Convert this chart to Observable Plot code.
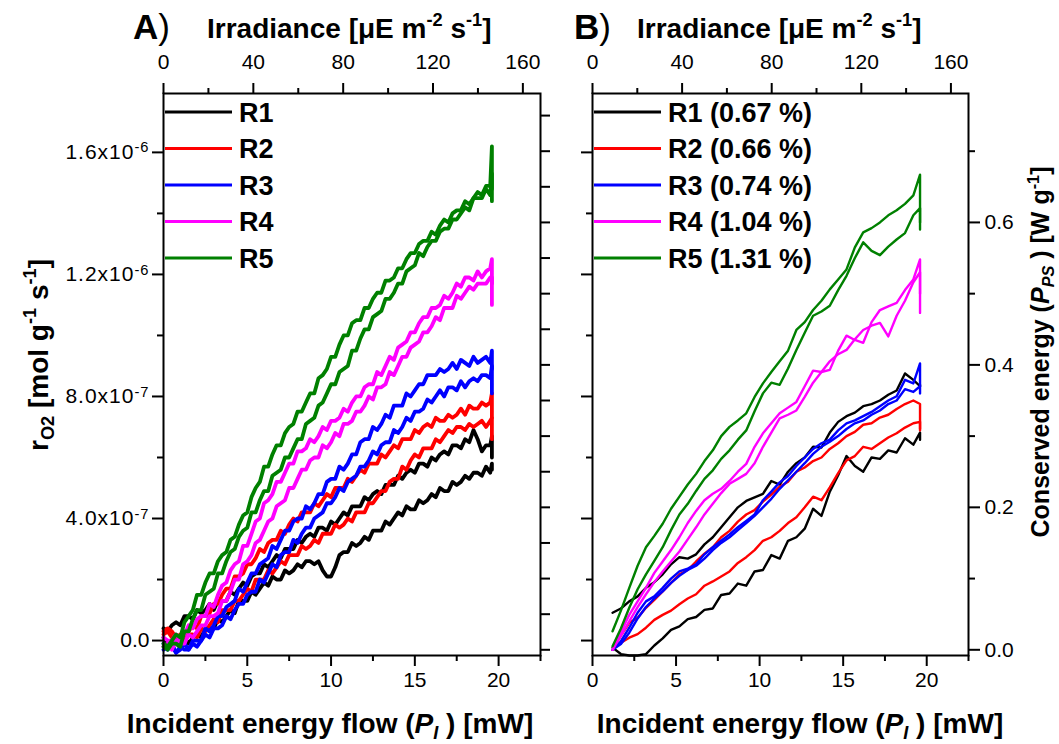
<!DOCTYPE html>
<html><head><meta charset="utf-8">
<script src="https://cdn.jsdelivr.net/npm/d3@7"></script>
<script src="https://cdn.jsdelivr.net/npm/@observablehq/plot@0.6"></script>
<style>
html,body{margin:0;padding:0;background:#fff;}
#wrap{position:relative;width:1059px;height:744px;overflow:hidden;background:#fff;}
#wrap svg{position:absolute;top:0;}
</style></head><body><div id="wrap"></div>
<script>
// ---------------- data ----------------
// Panel A: x = incident energy flow (mW); y = r_O2 in units of 1e-7 mol g-1 s-1
const xA = [0,0.25,0.5,0.75,1,1.25,1.5,1.75,2,2.25,2.5,2.75,3,3.25,3.5,3.75,4,4.25,4.5,4.75,5,5.25,5.5,5.75,6,6.25,6.5,6.75,7,7.25,7.5,7.75,8,8.25,8.5,8.75,9,9.25,9.5,9.75,10,10.25,10.5,10.75,11,11.25,11.5,11.75,12,12.25,12.5,12.75,13,13.25,13.5,13.75,14,14.25,14.5,14.75,15,15.25,15.5,15.75,16,16.25,16.5,16.75,17,17.25,17.5,17.75,18,18.25,18.5,18.75,19,19.25,19.5,19.6,19.6];
const aR1a = [0.4,0.3,0.5,0.6,0.5,0.8,0.8,0.7, 1.0,0.9,1.0,1.2,1.0,1.3,1.3,1.3, 1.6,1.5,1.7,1.9,1.8,2.1,2.2,2.2, 2.5,2.4,2.6,2.8,2.7,3.0,3.0,3.0, 3.3,3.2,3.4,3.5,3.4,3.7,3.7,3.6, 3.9,3.8,4.0,4.2,4.1,4.4,4.4,4.4, 4.7,4.6,4.8,4.9,4.8,5.1,5.1,5.1, 5.4,5.3,5.5,5.6,5.5,5.8,5.8,5.7, 6.0,5.9,6.1,6.2,6.1,6.4,6.4,6.3, 6.6,6.5,6.9,6.6,6.2,6.4,6.4, 6.7,6.0];
const aR1b = [0.1,-0.1,0.0,-0.1,-0.2,0.1,-0.1,0.1, 0.2,0.1,0.4,0.4,0.4,0.7,0.6,0.8, 1.0,0.9,1.3,1.3,1.3,1.6,1.5,1.7, 1.9,1.8,2.1,2.0,2.0,2.3,2.2,2.3, 2.5,2.4,2.6,2.6,2.5,2.6,2.3,2.1, 2.1,2.4,2.8,2.9,2.9,3.2,3.1,3.2, 3.4,3.3,3.6,3.6,3.6,3.9,3.8,4.0, 4.2,4.1,4.4,4.3,4.3,4.6,4.5,4.6, 4.8,4.7,5.0,4.9,4.9,5.2,5.1,5.2, 5.4,5.3,5.5,5.5,5.4,5.7,5.5, 5.8,5.6];
const aR2a = [0.3,0.4,0.3,0.1,0.2,0.1,0.3,0.5, 0.4,0.8,0.8,0.9,1.2,1.2,1.5,1.7, 1.7,2.1,2.1,2.2,2.5,2.5,2.7,3.0, 2.9,3.2,3.3,3.3,3.6,3.5,3.8,4.0, 3.9,4.2,4.2,4.2,4.5,4.4,4.6,4.8, 4.7,5.0,5.0,5.0,5.3,5.2,5.4,5.6, 5.5,5.8,5.8,5.8,6.1,6.0,6.2,6.4, 6.3,6.6,6.6,6.6,6.9,6.8,7.0,7.1, 7.0,7.3,7.2,7.2,7.4,7.3,7.4,7.6, 7.4,7.7,7.6,7.6,7.8,7.7,7.8, 8.1,7.3];
const aR2b = [0.2,0.3,0.1,0.1,0.1,0.0,0.2,0.2, 0.1,0.4,0.3,0.5,0.7,0.6,1.0,1.0, 1.0,1.3,1.3,1.5,1.7,1.6,2.0,2.0, 2.0,2.3,2.2,2.4,2.6,2.5,2.8,2.8, 2.8,3.1,3.0,3.1,3.3,3.2,3.5,3.5, 3.5,3.8,3.7,3.8,4.0,3.9,4.2,4.2, 4.2,4.5,4.5,4.7,4.9,4.9,5.2,5.3, 5.3,5.7,5.6,5.9,6.1,6.0,6.3,6.3, 6.3,6.6,6.5,6.7,6.9,6.8,7.0,7.0, 6.9,7.1,7.0,7.1,7.2,7.0,7.2, 7.3,6.6];
const aR3a = [-0.1,-0.3,-0.1,-0.4,-0.3,-0.1,-0.3,0.0, 0.0,0.0,0.4,0.3,0.5,0.8,0.8,1.1, 1.2,1.3,1.7,1.6,1.9,2.2,2.2,2.5, 2.6,2.7,3.1,3.0,3.3,3.6,3.6,3.9, 4.0,4.0,4.4,4.3,4.5,4.8,4.8,5.2, 5.3,5.3,5.7,5.6,5.8,6.1,6.1,6.5, 6.6,6.6,7.0,6.9,7.1,7.4,7.3,7.7, 7.7,7.7,8.1,8.0,8.2,8.4,8.4,8.7, 8.7,8.7,8.9,8.8,8.9,9.1,8.9,9.2, 9.1,9.0,9.3,9.1,9.2,9.3,9.1, 9.5,8.9];
const aR3b = [-0.3,-0.2,-0.2,-0.4,-0.2,-0.3,-0.3,-0.1, -0.2,0.0,0.2,0.1,0.4,0.4,0.5,0.8, 0.7,1.0,1.2,1.2,1.5,1.6,1.6,2.0, 1.9,2.2,2.5,2.4,2.8,2.9,2.9,3.3, 3.2,3.5,3.7,3.7,4.0,4.1,4.2,4.5, 4.5,4.7,5.0,4.9,5.2,5.3,5.4,5.7, 5.7,5.9,6.2,6.1,6.4,6.5,6.5,6.9, 6.8,7.0,7.3,7.2,7.5,7.5,7.6,7.9, 7.8,8.0,8.2,8.0,8.3,8.3,8.2,8.5, 8.3,8.5,8.6,8.5,8.7,8.7,8.6, 9.0,8.1];
const aR4a = [0.1,0.0,0.0,0.2,0.0,0.2,0.5,0.4, 0.7,0.8,0.8,1.2,1.1,1.5,1.8,1.9, 2.3,2.5,2.6,3.1,3.1,3.5,3.9,4.0, 4.5,4.6,4.8,5.2,5.2,5.5,5.8,5.8, 6.2,6.2,6.3,6.6,6.5,6.7,7.0,6.9, 7.2,7.2,7.3,7.6,7.5,7.8,8.0,8.0, 8.3,8.4,8.4,8.8,8.7,9.0,9.3,9.2, 9.6,9.7,9.8,10.1,10.1,10.4,10.6,10.6, 10.9,10.9,11.0,11.3,11.2,11.4,11.7,11.6, 11.9,11.9,11.8,12.1,11.9,12.1,12.2, 12.5,11.7];
const aR4b = [-0.2,-0.1,-0.3,0.0,-0.1,-0.1,0.2,0.1, 0.3,0.5,0.5,0.8,0.8,0.9,1.3,1.3, 1.6,2.0,2.0,2.5,2.6,2.8,3.2,3.3, 3.6,3.9,4.0,4.4,4.5,4.6,5.0,5.0, 5.3,5.6,5.6,5.9,6.0,6.0,6.4,6.3, 6.5,6.8,6.7,7.1,7.1,7.2,7.5,7.5, 7.7,8.0,7.9,8.3,8.3,8.4,8.8,8.7, 9.0,9.3,9.3,9.6,9.7,9.8,10.1,10.1, 10.3,10.6,10.5,10.9,10.9,10.9,11.3,11.2, 11.4,11.6,11.5,11.7,11.7,11.7,11.9, 11.9,11.0];
const aR5a = [-0.1,-0.2,0.0,0.2,0.1,0.6,0.8,1.0, 1.5,1.5,1.9,2.2,2.2,2.6,2.8,2.9, 3.3,3.4,3.8,4.1,4.2,4.7,5.0,5.2, 5.7,5.7,6.1,6.4,6.4,6.8,7.0,7.1, 7.5,7.5,7.8,8.1,8.1,8.6,8.7,8.9, 9.3,9.3,9.7,10.0,10.0,10.4,10.5,10.5, 10.9,10.9,11.2,11.4,11.4,11.8,11.8,11.9, 12.2,12.2,12.5,12.7,12.7,13.0,13.1,13.1, 13.4,13.3,13.6,13.8,13.7,14.0,14.1,14.1, 14.4,14.3,14.5,14.7,14.6,14.9,14.9, 16.2,14.8];
const aR5b = [-0.2,-0.3,-0.1,-0.1,-0.2,0.3,0.3,0.7, 1.0,1.0,1.5,1.6,1.7,2.2,2.2,2.6, 2.9,3.0,3.4,3.6,3.7,4.2,4.2,4.6, 4.9,4.9,5.4,5.5,5.6,6.0,6.0,6.3, 6.6,6.6,7.1,7.2,7.3,7.7,7.8,8.1, 8.4,8.4,8.8,8.9,9.0,9.5,9.5,9.9, 10.2,10.2,10.6,10.7,10.8,11.2,11.2,11.4, 11.7,11.7,12.1,12.2,12.3,12.7,12.6,12.9, 13.1,13.1,13.4,13.5,13.5,13.8,13.8,14.0, 14.2,14.1,14.5,14.5,14.5,14.8,14.6, 15.3,14.4];

// Panel B: x = incident energy flow (mW); y = conserved energy (W g-1)
const xB = [1.2,1.7,2.2,2.7,3.2,3.7,4.2,4.7,5.2,5.7,6.2,6.7,7.2,7.7,8.2,8.7,9.2,9.7,10.2,10.7,11.2,11.7,12.2,12.7,13.2,13.7,14.2,14.7,15.2,15.7,16.2,16.7,17.2,17.7,18.2,18.7,19.2,19.6,19.6];
const bR1a = [0.052,0.058,0.068,0.075,0.087,0.095,0.106,0.12,0.13,0.128,0.134,0.148,0.158,0.172,0.186,0.2,0.209,0.214,0.219,0.237,0.232,0.25,0.262,0.27,0.285,0.284,0.305,0.32,0.328,0.333,0.342,0.345,0.35,0.358,0.364,0.388,0.379,0.37,0.372];
const bR1b = [0.003,-0.006,-0.008,-0.008,-0.006,0.006,0.016,0.028,0.033,0.043,0.046,0.056,0.058,0.077,0.079,0.093,0.09,0.11,0.112,0.133,0.128,0.153,0.158,0.17,0.198,0.188,0.222,0.245,0.272,0.258,0.25,0.27,0.268,0.28,0.277,0.297,0.288,0.305,0.295];
const bR2a = [0.0,0.02,0.038,0.045,0.059,0.07,0.082,0.094,0.106,0.112,0.124,0.135,0.144,0.158,0.167,0.18,0.19,0.196,0.208,0.218,0.229,0.236,0.25,0.256,0.265,0.27,0.282,0.29,0.3,0.306,0.316,0.318,0.326,0.33,0.338,0.345,0.35,0.345,0.308];
const bR2b = [0.0,0.01,0.017,0.022,0.031,0.042,0.049,0.055,0.064,0.072,0.078,0.09,0.096,0.103,0.11,0.122,0.13,0.14,0.153,0.158,0.167,0.178,0.186,0.2,0.215,0.21,0.228,0.248,0.266,0.272,0.285,0.282,0.29,0.298,0.304,0.312,0.318,0.32,0.31];
const bR3a = [0.0,0.012,0.031,0.052,0.068,0.075,0.087,0.1,0.11,0.114,0.12,0.134,0.144,0.153,0.162,0.172,0.181,0.19,0.21,0.222,0.235,0.244,0.258,0.27,0.282,0.29,0.295,0.308,0.318,0.322,0.328,0.334,0.342,0.35,0.356,0.379,0.374,0.402,0.37];
const bR3b = [0.0,0.008,0.024,0.044,0.06,0.072,0.082,0.094,0.104,0.112,0.118,0.128,0.14,0.15,0.158,0.168,0.178,0.188,0.2,0.212,0.226,0.238,0.25,0.262,0.275,0.285,0.292,0.3,0.31,0.318,0.322,0.33,0.336,0.345,0.35,0.366,0.362,0.37,0.36];
const bR4a = [0.0,0.025,0.049,0.068,0.087,0.108,0.124,0.14,0.158,0.178,0.195,0.21,0.219,0.226,0.237,0.25,0.261,0.285,0.304,0.318,0.332,0.34,0.348,0.37,0.392,0.39,0.393,0.42,0.441,0.435,0.431,0.46,0.477,0.482,0.487,0.505,0.52,0.548,0.473];
const bR4b = [0.0,0.02,0.04,0.06,0.078,0.095,0.11,0.124,0.138,0.155,0.172,0.19,0.205,0.22,0.233,0.24,0.247,0.262,0.285,0.305,0.325,0.33,0.336,0.355,0.375,0.39,0.405,0.415,0.421,0.436,0.449,0.455,0.459,0.44,0.469,0.49,0.516,0.53,0.5];
const bR5a = [0.026,0.055,0.087,0.118,0.144,0.16,0.177,0.198,0.215,0.232,0.247,0.265,0.28,0.3,0.313,0.322,0.332,0.355,0.374,0.39,0.405,0.42,0.449,0.46,0.477,0.49,0.506,0.52,0.534,0.565,0.586,0.592,0.6,0.61,0.617,0.626,0.638,0.667,0.59];
const bR5b = [0.005,0.03,0.059,0.085,0.106,0.125,0.144,0.168,0.19,0.205,0.223,0.24,0.252,0.268,0.28,0.295,0.308,0.335,0.36,0.375,0.372,0.395,0.421,0.445,0.469,0.475,0.483,0.505,0.525,0.55,0.572,0.56,0.554,0.566,0.576,0.585,0.61,0.62,0.6];

const seriesNames = ["R1","R2","R3","R4","R5"];
const seriesColors = ["#000000","#ff0000","#0000ff","#ff00ff","#008000"];
const legendB = ["R1 (0.67 %)","R2 (0.66 %)","R3 (0.74 %)","R4 (1.04 %)","R5 (1.31 %)"];

// axes
const xDomain = [0, 22.5];
const aDomain = [-0.49, 17.93];   // x1e-7
const bDomain = [-0.008, 0.781];
const irrPerMW = 7.46;
const xMajor = [0,5,10,15,20];
const xMinor = [2.5,7.5,12.5,17.5,22.5];
const irrMajor = [0,40,80,120,160];
const irrMinor = [20,60,100,140];
const aMajor = [0,4,8,12,16];
const aMajorLabels = ["0.0","4.0x10^-7","8.0x10^-7","1.2x10^-6","1.6x10^-6"];
const aMinor = [2,6,10,14];
const bMajor = [0,0.2,0.4,0.6];
const bMinor = [0.1,0.3,0.5,0.7];
const bFine = [0,0.05,0.1,0.15,0.2,0.25,0.3,0.35,0.4,0.45,0.5,0.55,0.6,0.65,0.7,0.75];

// ---------------- build ----------------
const FONT = "'Liberation Sans', Arial, sans-serif";
const aToB = a => bDomain[0] + (a - aDomain[0]) / (aDomain[1] - aDomain[0]) * (bDomain[1] - bDomain[0]);
const bToA = b => aDomain[0] + (b - bDomain[0]) / (bDomain[1] - bDomain[0]) * (aDomain[1] - aDomain[0]);
const pts = (xs, ys) => xs.slice(0, ys.length).map((x, i) => ({x, y: ys[i]}));

const aSeries = [[aR1a,aR1b],[aR2a,aR2b],[aR3a,aR3b],[aR4a,aR4b],[aR5a,aR5b]];
const bSeries = [[bR1a,bR1b],[bR2a,bR2b],[bR3a,bR3b],[bR4a,bR4b],[bR5a,bR5b]];

const common = {
  height: 744, marginTop: 93, marginBottom: 89,
  x: {domain: xDomain},
  style: {fontFamily: FONT, fontSize: "21px", color: "#000", background: "transparent", overflow: "visible"}
};
const xAxes = [
  Plot.axisX({anchor: "bottom", ticks: xMajor, tickSize: 11, tickPadding: 6, label: null, strokeWidth: 2}),
  Plot.axisX({anchor: "bottom", ticks: xMinor, tickSize: 6, tickFormat: () => "", label: null, strokeWidth: 2}),
  Plot.axisX({anchor: "top", ticks: irrMajor.map(v => v / irrPerMW), tickFormat: d => String(Math.round(d * irrPerMW)), tickSize: 11, tickPadding: 14, label: null, strokeWidth: 2}),
  Plot.axisX({anchor: "top", ticks: irrMinor.map(v => v / irrPerMW), tickSize: 6, tickFormat: () => "", label: null, strokeWidth: 2})
];

const linesA = [];
aSeries.forEach((pair, k) => pair.forEach(ys => linesA.push(Plot.line(pts(xA, ys), {x: "x", y: "y", stroke: seriesColors[k], strokeWidth: 3.8, strokeLinejoin: "round"}))));
const plotA = Plot.plot({
  ...common, width: 560, marginLeft: 163, marginRight: 20,
  y: {domain: aDomain},
  marks: [
    ...linesA,
    Plot.frame({stroke: "#000", strokeWidth: 2}),
    ...xAxes,
    Plot.axisY({anchor: "left", ticks: aMajor, tickFormat: d => aMajorLabels[aMajor.indexOf(d)], tickSize: 11, tickPadding: 3, label: null, strokeWidth: 2}),
    Plot.axisY({anchor: "left", ticks: aMinor, tickFormat: () => "", tickSize: 6, label: null, strokeWidth: 2}),
    Plot.axisY({anchor: "right", ticks: bFine.map(bToA), tickFormat: () => "", tickSize: 9, label: null, strokeWidth: 2})
  ]
});

const linesB = [];
bSeries.forEach((pair, k) => pair.forEach(ys => linesB.push(Plot.line(pts(xB, ys), {x: "x", y: "y", stroke: seriesColors[k], strokeWidth: 2.4}))));
const plotB = Plot.plot({
  ...common, width: 559, marginLeft: 92, marginRight: 91,
  y: {domain: bDomain},
  marks: [
    ...linesB,
    Plot.frame({stroke: "#000", strokeWidth: 2}),
    ...xAxes,
    Plot.axisY({anchor: "right", ticks: bMajor, tickFormat: d => d.toFixed(1), tickSize: 11, tickPadding: 5, label: null, strokeWidth: 2}),
    Plot.axisY({anchor: "right", ticks: bMinor, tickFormat: () => "", tickSize: 6, label: null, strokeWidth: 2}),
    Plot.axisY({anchor: "left", ticks: aMajor.map(aToB), tickFormat: () => "", tickSize: 11, label: null, strokeWidth: 2}),
    Plot.axisY({anchor: "left", ticks: aMinor.map(aToB), tickFormat: () => "", tickSize: 6, label: null, strokeWidth: 2})
  ]
});

const wrap = document.getElementById("wrap");
plotA.style.left = "0px";
plotB.style.left = "500px";
wrap.appendChild(plotA);
wrap.appendChild(plotB);

// superscripts in tick labels like 1.6x10^-6
const NS = "http://www.w3.org/2000/svg";
plotA.querySelectorAll("text").forEach(t => {
  const s = t.textContent;
  if (s.includes("^")) {
    const [base, exp] = s.split("^");
    t.textContent = base;
    t.setAttribute("letter-spacing", "1");
    const ts = document.createElementNS(NS, "tspan");
    ts.setAttribute("dy", "-0.45em");
    ts.setAttribute("font-size", "0.7em");
    ts.textContent = exp;
    t.appendChild(ts);
  }
});

// ---------------- overlay text (titles, legends) ----------------
const ov = d3.select(wrap).append("svg").attr("width", 1059).attr("height", 744)
  .style("left", "0px").style("pointer-events", "none").style("font-family", FONT);

function rich(x, y, size, parts, opts = {}) {
  const t = ov.append("text").attr("x", x).attr("y", y).attr("font-size", size)
    .attr("font-weight", "bold").attr("fill", "#000")
    .attr("text-anchor", opts.anchor || "start");
  if (opts.rotate) t.attr("transform", `rotate(${opts.rotate},${x},${y})`);
  let off = 0;
  for (const p of parts) {
    const ts = t.append("tspan").text(p.t);
    let target = 0, fs = size;
    if (p.sup) { target = -0.42 * size; fs = 0.65 * size; }
    if (p.sub) { target = 0.2 * size; fs = 0.65 * size; }
    ts.attr("font-size", fs).attr("dy", target - off);
    off = target;
    if (p.i) ts.attr("font-style", "italic");
    if (p.n) ts.attr("font-weight", "normal");
  }
  return t;
}
const irrParts = [{t: "Irradiance [\u03BCE m"}, {t: "-2", sup: 1}, {t: " s"}, {t: "-1", sup: 1}, {t: "]"}];
const botParts = [{t: "Incident energy flow ("}, {t: "P", i: 1}, {t: "I", sub: 1, i: 1}, {t: " ) [mW]"}];

rich(133, 39, 35, [{t: "A"}, {t: ")", n: 1}]);
rich(207, 38, 28, irrParts);
rich(574, 39, 35, [{t: "B"}, {t: ")", n: 1}]);
rich(637, 38, 28, irrParts);
rich(330, 733, 28, botParts, {anchor: "middle"});
rich(800, 733, 28, botParts, {anchor: "middle"});
rich(48, 355, 28, [{t: "r"}, {t: "O2", sub: 1}, {t: " [mol g"}, {t: "-1", sup: 1}, {t: " s"}, {t: "-1", sup: 1}, {t: "]"}], {anchor: "middle", rotate: -90});
rich(1049, 352, 25, [{t: "Conserved energy ("}, {t: "P", i: 1}, {t: "PS", sub: 1, i: 1}, {t: " ) [W g"}, {t: "-1", sup: 1}, {t: "]"}], {anchor: "middle", rotate: -90});

// legends
function legend(x0, labels) {
  labels.forEach((lab, i) => {
    const y = 112 + i * 36.5;
    ov.append("line").attr("x1", x0).attr("x2", x0 + 67).attr("y1", y).attr("y2", y)
      .attr("stroke", seriesColors[i]).attr("stroke-width", 2.8);
    ov.append("text").attr("x", x0 + 74).attr("y", y + 9.5).attr("font-size", 27)
      .attr("font-weight", "bold").attr("fill", "#000").text(lab);
  });
}
legend(165, seriesNames);
legend(594, legendB);
</script>
</body></html>
